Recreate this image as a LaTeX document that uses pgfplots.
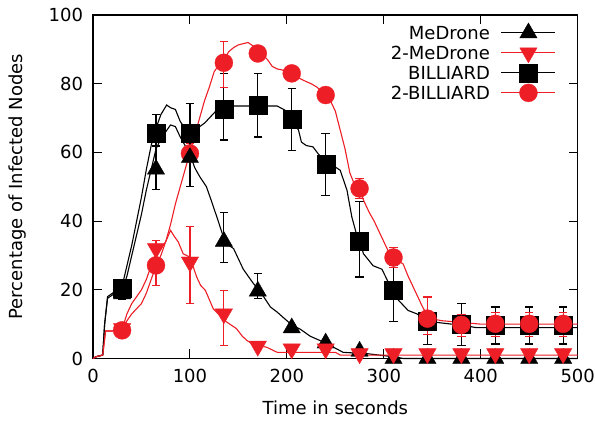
\documentclass[border=0pt]{standalone}
\usepackage{fontspec}
\setmainfont{DejaVu Sans}
\usepackage{pgfplots}
\usepackage{pgfplotstable}
\pgfplotsset{compat=1.18}

\definecolor{gpred}{RGB}{237,30,38}
\newcommand{\chartfont}{\fontsize{18bp}{21bp}\selectfont}

% sampled points with error bars: x, value, upper and lower error
\pgfplotstableread{
x   y     ep   em
30  18.8  1.5  1.5
65  55.1  7.0  6.0
100 58.5  8.5  8.5
135 34.1  8.3  6.1
170 19.6  5.1  2.2
205 8.9   1.0  1.0
240 4.5   0.8  0.8
275 2.1   0.5  0.5
310 0     0    0
345 0     0    0
380 0     0    0
415 0     0    0
450 0     0    0
485 0     0    0
}\medrone

\pgfplotstableread{
x   y     ep   em
30  8.7   1.0  1.0
65  32.0  2.4  4.0
100 28.1  10.4 12.1
135 13.0  6.8  9.2
170 3.6   1.0  1.0
205 2.8   0.8  0.8
240 2.8   0.8  0.8
275 1.4   0.5  0.5
310 1.4   0.5  0.5
345 1.4   0.5  0.5
380 1.4   0.5  0.5
415 1.4   0.5  0.5
450 1.4   0.5  0.5
485 1.4   0.5  0.5
}\twomedrone

\pgfplotstableread{
x   y     ep   em
30  20.5  2.0  2.0
65  65.7  5.3  4.0
100 65.7  8.5  5.0
135 72.6  10.4 9.0
170 73.8  9.2  9.3
205 69.6  9.0  9.0
240 56.6  8.9  9.1
275 34.2  11.4 10.5
310 20.0  7.0  9.2
345 10.8  7.0  6.8
380 9.9   6.0  6.1
415 9.6   5.4  5.4
450 9.6   5.4  5.4
485 9.6   5.4  5.4
}\billiard

\pgfplotstableread{
x   y     ep   em
30  8.2   1.5  1.5
65  27.1  5.0  5.8
100 59.7  3.0  9.7
135 86.1  6.1  7.1
170 88.8  2.0  2.0
205 83.0  2.0  2.0
240 76.7  2.0  2.0
275 49.5  3.0  3.0
310 29.4  3.0  3.0
345 11.6  6.3  4.7
380 9.8   3.0  3.3
415 10.1  3.2  3.6
450 10.1  3.2  3.6
485 10.1  3.2  3.6
}\twobilliard

\pgfplotsset{
  marks/.style={forget plot, only marks, mark size=#1,
    mark options={solid, line width=0.3bp}},
  bars/.style={error bars/.cd, y dir=both, y explicit,
    error bar style={line width=1.2bp, #1},
    error mark options={rotate=90, mark size=4.2bp, line width=1.2bp, #1}},
}

\begin{document}
\begin{tikzpicture}
\useasboundingbox (0,0) rectangle (595bp,423bp);
\begin{axis}[
  at={(93bp,64.5bp)}, anchor=south west,
  scale only axis, width=484.7bp, height=343.5bp,
  xmin=0, xmax=500, ymin=0, ymax=100,
  xtick={0,100,...,500}, ytick={0,20,...,100},
  tick align=inside, major tick length=9bp,
  tick style={black, line width=1bp},
  axis line style={line width=1.2bp},
  clip=false,
  /pgf/number format/assume math mode=true,
  tick label style={font=\chartfont},
  xticklabel style={yshift=-7.5bp},
  yticklabel style={xshift=-6.5bp},
  label style={font=\chartfont},
  xlabel={Time in seconds},
  ylabel={Percentage of Infected Nodes},
  xlabel style={at={(axis description cs:0.5,-0.163)}, anchor=base},
  ylabel style={at={(axis description cs:-0.145,0.5)}, anchor=base},
  legend cell align=right, legend plot pos=right,
  legend style={at={(axis description cs:0.9552,0.967)}, anchor=north east,
    draw=none, fill=none, inner sep=0pt, outer sep=0pt,
    row sep=6.9bp, column sep=11bp, font=\chartfont,
    nodes={inner sep=0pt, text height=13.1bp, text depth=0pt}},
  legend image code/.code={
    \draw[overlay, mark repeat=2, mark phase=2, #1]
      plot coordinates {(0bp,0bp) (27bp,0bp) (54bp,0bp)};
    \path (0bp,0bp) -- (54bp,0bp);},
]
\addlegendimage{black, line width=1.1bp, mark=triangle*, mark size=10bp, mark options={solid, line width=0.3bp}}
\addlegendentry{MeDrone}
\addlegendimage{gpred, line width=1.1bp, mark=triangle*, mark size=10bp, mark options={solid, rotate=180, line width=0.3bp}}
\addlegendentry{2-MeDrone}
\addlegendimage{black, line width=1.1bp, mark=square*, mark size=9bp, mark options={solid, line width=0.3bp}}
\addlegendentry{BILLIARD}
\addlegendimage{gpred, line width=1.1bp, mark=*, mark size=9bp, mark options={solid, line width=0.3bp}}
\addlegendentry{2-BILLIARD}

% BILLIARD
\addplot[forget plot, black, line width=1.1bp] coordinates {
(0,0)(3,0.5)(10,1)(12,10)(15,18)(20,19)(25,20)(30,21)(35,27)(40,33)(45,40)
(50,47)(55,55)(60,62)(65,67)(70,71)(76,73.8)(80,73)(85,72.5)(90,69)(95,67)
(100,65.7)(105,66)(110,67.5)(115,68.5)(120,70)(125,71.5)(130,73)(135,73.5)
(190,73.5)(198,72.3)(205,69.6)(212,66.5)(215,63)(220,62)(227,61.6)(232,59.7)
(240,57.2)(245,56.7)(255,54.8)(262,49)(267,41.2)(272,36)(275,34.2)(279,30.5)
(289,27)(298,26)(305,22)(310,20)(315,17)(325,14)(334,13)(340,12)(345,11)
(355,10.5)(370,10)(385,9.5)(395,9)(500,9)};
\addplot[marks=9bp, black, mark=square*, bars=black]
  table[x=x, y=y, y error plus=ep, y error minus=em] {\billiard};

% 2-BILLIARD
\addplot[forget plot, gpred, line width=1.1bp] coordinates {
(0,0)(3,0.5)(10,1)(13,8)(20,8)(25,8)(30,8.3)(35,11)(40,13)(45,14.5)(50,16)
(55,19)(60,23)(65,27)(70,30)(75,34)(80,39)(85,45)(90,50)(95,55)(100,60)
(105,65)(110,70)(115,75)(120,79)(125,83.5)(130,85.5)(135,87)(140,89.3)
(145,90.5)(150,91.3)(160,92)(165,91)(170,89.5)(175,88.5)(180,87)(185,85)
(190,84.3)(195,84)(200,83.5)(205,83)(210,82)(215,81.3)(220,80.6)(225,80)
(231,79)(235,78)(240,76.7)(245,75)(250,72)(255,66.5)(260,61)(265,54)
(270,50.5)(275,49)(280,45.5)(285,42.5)(290,40)(295,37)(300,34)(305,31)
(310,29)(315,28.5)(320,27.5)(325,24)(330,21)(335,18)(340,15)(345,12.5)
(350,11.5)(360,11)(380,10.5)(400,10)(500,10)};
\addplot[marks=9bp, gpred, mark=*, bars=gpred]
  table[x=x, y=y, y error plus=ep, y error minus=em] {\twobilliard};

% MeDrone
\addplot[forget plot, black, line width=1.1bp] coordinates {
(0,0)(3,0.5)(10,1)(12,10)(15,17.5)(20,18.5)(25,19)(30,19.5)(35,24)(40,30)
(45,36)(50,42)(55,49)(60,55)(65,61)(70,64)(75,66)(80,68)(85,67.5)(90,64.5)
(95,62)(100,59.5)(105,55.5)(110,53)(117,50)(122,46)(128,41)(135,35)(140,33)
(145,32)(150,29)(155,26)(160,24)(165,22)(170,20.3)(176,18)(183,15)(190,13.5)
(196,12)(205,9.8)(214,8.5)(224,6.5)(232,5.5)(240,4.5)(248,3.3)(258,1.8)
(270,1.6)(280,1.5)(295,1)(313,0.4)(320,0)(500,0)};
\addplot[marks=10bp, black, mark=triangle*, bars=black]
  table[x=x, y=y, y error plus=ep, y error minus=em] {\medrone};

% 2-MeDrone
\addplot[forget plot, gpred, line width=1.1bp] coordinates {
(0,0)(3,0.5)(10,1)(13,8)(20,8)(25,8)(30,8.5)(35,13)(40,16)(45,18)(50,20)
(55,23)(60,27)(65,30.5)(70,32)(75,34)(80,37.3)(84,35.5)(88,33.9)(93,30.5)
(100,29.5)(103,27)(107,23.7)(111,21.3)(116,19.8)(124,14.5)(131,12.5)
(138,10.6)(148,8.7)(154,6.5)(159,5.2)(165,4.2)(170,3.8)(179,3.3)(190,1.8)
(250,1.8)(255,1)(500,1)};
\addplot[marks=10bp, gpred, mark=triangle*, mark options={rotate=180}, bars=gpred]
  table[x=x, y=y, y error plus=ep, y error minus=em] {\twomedrone};
\end{axis}
\end{tikzpicture}
\end{document}
